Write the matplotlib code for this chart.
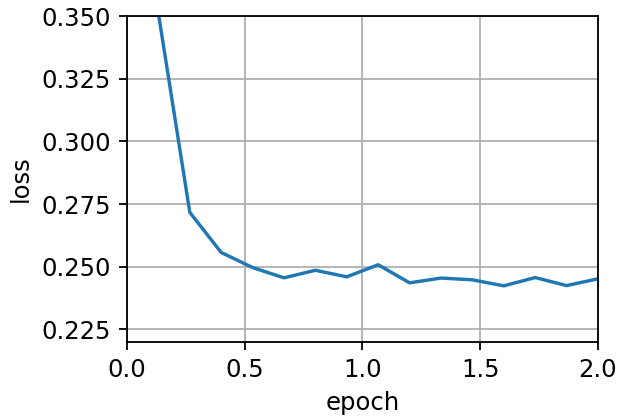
import numpy as np
import matplotlib
matplotlib.use('Agg')
import matplotlib.pyplot as plt

# loss recorded every 200 examples (1500 per epoch)
epochs = [2 * (i + 1) / 15 for i in range(15)]
loss = [0.351, 0.2717, 0.2557, 0.2497, 0.2456, 0.2486, 0.2460, 0.2508,
        0.2436, 0.2455, 0.2448, 0.2424, 0.2457, 0.2425, 0.2452]

S = 1.63  # scale relative to a default-sized figure

plt.rcParams.update({
    'font.size': 17.5,
    'axes.linewidth': 0.8 * S,
    'xtick.major.size': 3.5 * S,
    'ytick.major.size': 3.5 * S,
    'xtick.major.width': 0.8 * S,
    'ytick.major.width': 0.8 * S,
    'xtick.major.pad': 3.5 * S,
    'ytick.major.pad': 3.5 * S,
    'axes.labelpad': 4.0 * S,
    'grid.linewidth': 0.8 * S,
})

fig = plt.figure(figsize=(6.18, 4.18), dpi=100)
ax = fig.add_axes([0.2055, 0.1818, 0.7621, 0.7799])
ax.plot(epochs, loss, color='#1f77b4', linewidth=1.5 * S)
ax.set_xlim(0, 2)
ax.set_ylim(0.22, 0.35)
ax.set_xticks([0.0, 0.5, 1.0, 1.5, 2.0])
ax.set_yticks([0.225, 0.25, 0.275, 0.3, 0.325, 0.35])
ax.set_xlabel('epoch')
ax.set_ylabel('loss')
ax.grid(True)

fig.savefig('out.png', dpi=100)
